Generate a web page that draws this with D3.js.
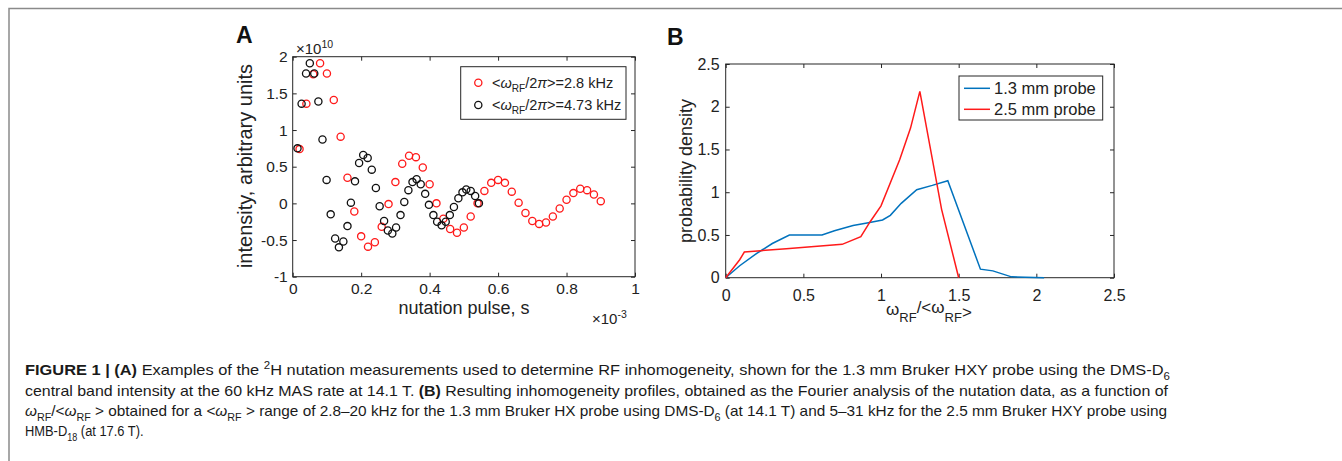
<!DOCTYPE html>
<html>
<head>
<meta charset="utf-8">
<script src="https://cdn.jsdelivr.net/npm/d3@7"></script>
<style>
  body { margin: 0; background: #fff; }
  svg { display: block; }
</style>
</head>
<body>
<div id="chart"></div>
<script>
// Panel A: nutation curves, x in units of 1e-3 s, y in units of 1e10
const redX = [0.02, 0.04, 0.06, 0.08, 0.10, 0.12, 0.14, 0.16, 0.18, 0.20,
  0.22, 0.24, 0.26, 0.28, 0.30, 0.32, 0.34, 0.36, 0.38, 0.40,
  0.42, 0.44, 0.46, 0.48, 0.50, 0.52, 0.54, 0.56, 0.58, 0.60,
  0.62, 0.64, 0.66, 0.68, 0.70, 0.72, 0.74, 0.76, 0.78, 0.80,
  0.82, 0.84, 0.86, 0.88, 0.90];
const redY = [0.74, 1.36, 1.76, 1.91, 1.77, 1.41, 0.91, 0.35, -0.11, -0.45,
  -0.59, -0.53, -0.32, -0.01, 0.29, 0.54, 0.65, 0.63, 0.49, 0.26,
  0.00, -0.21, -0.35, -0.40, -0.33, -0.18, 0.00, 0.17, 0.28, 0.32,
  0.28, 0.16, 0.01, -0.13, -0.24, -0.28, -0.26, -0.18, -0.07, 0.05,
  0.14, 0.20, 0.18, 0.12, 0.03];
const blackX = [0.014, 0.026, 0.039, 0.050, 0.063, 0.075, 0.087, 0.099, 0.111, 0.124,
  0.135, 0.148, 0.160, 0.170, 0.182, 0.194, 0.206, 0.219, 0.231, 0.243,
  0.254, 0.267, 0.278, 0.291, 0.302, 0.315, 0.326, 0.338, 0.350, 0.362,
  0.374, 0.387, 0.398, 0.411, 0.422, 0.435, 0.447, 0.459, 0.471, 0.484,
  0.496, 0.507, 0.520, 0.533, 0.544];
const blackY = [0.75, 1.36, 1.77, 1.91, 1.77, 1.39, 0.87, 0.32, -0.15, -0.48,
  -0.60, -0.52, -0.31, 0.01, 0.30, 0.55, 0.66, 0.62, 0.46, 0.21,
  -0.04, -0.24, -0.37, -0.41, -0.33, -0.16, 0.02, 0.18, 0.29, 0.33,
  0.26, 0.13, -0.02, -0.16, -0.25, -0.30, -0.25, -0.16, -0.05, 0.07,
  0.15, 0.19, 0.17, 0.10, 0.00];
const nutXTicks = [0, 0.2, 0.4, 0.6, 0.8, 1];
const nutYTicks = [-1, -0.5, 0, 0.5, 1, 1.5, 2];

// Panel B: inhomogeneity profiles
const p13X = [0, 0.09, 0.20, 0.30, 0.41, 0.62, 0.70, 0.82, 0.91, 1.01, 1.06, 1.13, 1.23, 1.33, 1.43, 1.64, 1.72, 1.84, 2.05];
const p13Y = [0, 0.14, 0.285, 0.40, 0.50, 0.50, 0.55, 0.61, 0.64, 0.675, 0.73, 0.87, 1.03, 1.08, 1.135, 0.10, 0.08, 0.01, 0.0];
const p25X = [0, 0.09, 0.12, 0.39, 0.61, 0.75, 0.87, 0.93, 1.00, 1.12, 1.19, 1.25, 1.39, 1.50];
const p25Y = [0, 0.21, 0.30, 0.34, 0.37, 0.39, 0.48, 0.655, 0.84, 1.38, 1.75, 2.18, 0.80, 0.0];
const ratioTicks = [0, 0.5, 1, 1.5, 2, 2.5];
const densTicks = [0, 0.5, 1, 1.5, 2, 2.5];

const W = 1342, H = 461;
const ink = "#222";
const svg = d3.select("#chart").append("svg")
  .attr("width", W).attr("height", H)
  .style("font-family", "'Liberation Sans', Arial, sans-serif");

// figure frame (top and left rules)
svg.append("path")
  .attr("d", `M9,${H}V8.5H${W}`)
  .attr("fill", "none").attr("stroke", "#8a8a8a").attr("stroke-width", 1.5);

// boxed axes with inward ticks on all four sides
function drawAxes(g, x, y, xTicks, yTicks, fs, xPad, yPad) {
  const [x0, x1] = x.range(), [y0, y1] = y.range();
  const fix = s => s.attr("font-family", null).attr("font-size", fs);
  g.append("g").attr("transform", `translate(0,${y0})`)
    .call(d3.axisBottom(x).tickValues(xTicks).tickSizeInner(-4).tickSizeOuter(0).tickPadding(xPad).tickFormat(String)).call(fix);
  g.append("g").attr("transform", `translate(0,${y1})`)
    .call(d3.axisTop(x).tickValues(xTicks).tickSizeInner(-4).tickSizeOuter(0).tickFormat(""));
  g.append("g").attr("transform", `translate(${x0},0)`)
    .call(d3.axisLeft(y).tickValues(yTicks).tickSizeInner(-4).tickSizeOuter(0).tickPadding(yPad).tickFormat(String)).call(fix);
  g.append("g").attr("transform", `translate(${x1},0)`)
    .call(d3.axisRight(y).tickValues(yTicks).tickSizeInner(-4).tickSizeOuter(0).tickFormat(""));
  g.selectAll(".domain").remove();
  g.selectAll(".tick line").attr("stroke", "#262626");
  g.selectAll(".tick text").attr("fill", ink);
  g.append("rect")
    .attr("x", x0).attr("y", y1).attr("width", x1 - x0).attr("height", y0 - y1)
    .attr("fill", "none").attr("stroke", "#262626");
}

// text made of styled pieces: [string, {i, b, sub, sup}]
function rich(sel, parts, fs) {
  let shift = 0;
  parts.forEach(([s, o = {}]) => {
    const want = o.sub ? fs * 0.3 : o.sup ? -fs * 0.4 : 0;
    const t = sel.append("tspan").text(s).attr("dy", want - shift);
    if (o.sub || o.sup) t.attr("font-size", fs * 0.7);
    if (o.i) t.attr("font-style", "italic");
    if (o.b) t.attr("font-weight", "bold");
    shift = want;
  });
  return sel;
}

// ---------- Panel A ----------
const gA = svg.append("g");
const ax = d3.scaleLinear().domain([0, 1]).range([292.7, 635]);
const ay = d3.scaleLinear().domain([-1, 2]).range([276.7, 56.7]);
drawAxes(gA, ax, ay, nutXTicks, nutYTicks, 15.5, 6, 5);

gA.append("g").selectAll("circle")
  .data(d3.zip(redX, redY)).join("circle")
  .attr("cx", d => ax(d[0])).attr("cy", d => ay(d[1])).attr("r", 3.6)
  .attr("fill", "none").attr("stroke", "#ff1a1a").attr("stroke-width", 1.3);
gA.append("g").selectAll("circle")
  .data(d3.zip(blackX, blackY)).join("circle")
  .attr("cx", d => ax(d[0])).attr("cy", d => ay(d[1])).attr("r", 3.6)
  .attr("fill", "none").attr("stroke", "#111").attr("stroke-width", 1.3);

gA.append("text").attr("x", 236).attr("y", 43)
  .attr("font-size", 23).attr("font-weight", "bold").attr("fill", "#111").text("A");
rich(gA.append("text").attr("x", 296).attr("y", 53.5).attr("font-size", 15).attr("fill", ink),
  [["\u00d710"], ["10", {sup: true}]], 15);
rich(gA.append("text").attr("x", 592).attr("y", 324).attr("font-size", 15).attr("fill", ink),
  [["\u00d710"], ["-3", {sup: true}]], 15);
gA.append("text").attr("x", 464).attr("y", 314).attr("text-anchor", "middle")
  .attr("font-size", 18).attr("fill", ink).text("nutation pulse, s");
gA.append("text").attr("transform", "translate(252,166) rotate(-90)").attr("text-anchor", "middle")
  .attr("font-size", 20).attr("fill", ink).text("intensity, arbitrary units");

// legend A
const legA = gA.append("g");
legA.append("rect").attr("x", 460.7).attr("y", 66.7).attr("width", 165.3).attr("height", 52.6)
  .attr("fill", "#fff").attr("stroke", "#262626");
[["#ff1a1a", "2.8"], ["#111", "4.73"]].forEach(([c, v], i) => {
  const cy = 82.7 + i * 22.3;
  legA.append("circle").attr("cx", 478.3).attr("cy", cy).attr("r", 3.6)
    .attr("fill", "none").attr("stroke", c).attr("stroke-width", 1.3);
  rich(legA.append("text").attr("x", 492).attr("y", cy + 5).attr("font-size", 14.5).attr("fill", ink),
    [["<"], ["\u03c9", {i: true}], ["RF", {sub: true}], ["/2"], ["\u03c0", {i: true}], [`>=${v} kHz`]], 14.5);
});

// ---------- Panel B ----------
const gB = svg.append("g");
const bx = d3.scaleLinear().domain([0, 2.5]).range([725.7, 1114]);
const by = d3.scaleLinear().domain([0, 2.5]).range([277.7, 64]);
drawAxes(gB, bx, by, ratioTicks, densTicks, 16, 12, 6);

const line = d3.line().x(d => bx(d[0])).y(d => by(d[1]));
gB.append("path").datum(d3.zip(p13X, p13Y)).attr("d", line)
  .attr("fill", "none").attr("stroke", "#0072bd").attr("stroke-width", 1.5);
gB.append("path").datum(d3.zip(p25X, p25Y)).attr("d", line)
  .attr("fill", "none").attr("stroke", "#ff1a1a").attr("stroke-width", 1.5);

gB.append("text").attr("x", 667).attr("y", 45)
  .attr("font-size", 23).attr("font-weight", "bold").attr("fill", "#111").text("B");
gB.append("text").attr("transform", "translate(692,171) rotate(-90)").attr("text-anchor", "middle")
  .attr("font-size", 18).attr("fill", ink).text("probability density");
const xlabB = gB.append("text").attr("x", 886).attr("y", 315).attr("font-size", 17).attr("fill", ink);
xlabB.append("tspan").text("\u03c9");
xlabB.append("tspan").attr("dy", 7).attr("font-size", 13).text("RF");
xlabB.append("tspan").attr("dy", -9).text("/<\u03c9");
xlabB.append("tspan").attr("dy", 9).attr("font-size", 13).text("RF");
xlabB.append("tspan").attr("dy", -4).text(">");

const legB = gB.append("g");
legB.append("rect").attr("x", 959).attr("y", 76).attr("width", 143.7).attr("height", 44)
  .attr("fill", "#fff").attr("stroke", "#262626");
[["#0072bd", "1.3 mm probe"], ["#ff1a1a", "2.5 mm probe"]].forEach(([c, t], i) => {
  const cy = 88.3 + i * 21;
  legB.append("line").attr("x1", 964).attr("x2", 990).attr("y1", cy).attr("y2", cy)
    .attr("stroke", c).attr("stroke-width", 1.5);
  legB.append("text").attr("x", 994).attr("y", cy + 5.8).attr("font-size", 16.5).attr("fill", ink).text(t);
});

// ---------- Caption ----------
const capLines = [
  [["FIGURE 1 | (A)", {b: true}], [" Examples of the "], ["2", {sup: true}], ["H nutation measurements used to determine RF inhomogeneity, shown for the 1.3 mm Bruker HXY probe using the DMS-D"], ["6", {sub: true}]],
  [["central band intensity at the 60 kHz MAS rate at 14.1 T. "], ["(B)", {b: true}], [" Resulting inhomogeneity profiles, obtained as the Fourier analysis of the nutation data, as a function of"]],
  [["\u03c9", {i: true}], ["RF", {sub: true}], ["/<"], ["\u03c9", {i: true}], ["RF", {sub: true}], [" > obtained for a <"], ["\u03c9", {i: true}], ["RF", {sub: true}], [" > range of 2.8\u201320 kHz for the 1.3 mm Bruker HX probe using DMS-D"], ["6", {sub: true}], [" (at 14.1 T) and 5\u201331 kHz for the 2.5 mm Bruker HXY probe using"]],
  [["HMB-D"], ["18", {sub: true}], [" (at 17.6 T)."]]
];
// justified lines get a fixed width; the short last line is only narrowed
const capWidths = [1145, 1143, 1142, null];
const capBase = [375, 395.5, 416, 436];
capLines.forEach((parts, i) => {
  const t = svg.append("text")
    .attr("transform", `translate(25,${capBase[i]})` + (capWidths[i] ? "" : " scale(0.86,1)"))
    .attr("font-size", 15).attr("fill", "#1a1a1a");
  if (capWidths[i]) t.attr("textLength", capWidths[i]).attr("lengthAdjust", "spacingAndGlyphs");
  rich(t, parts, 15);
});
</script>
</body>
</html>
